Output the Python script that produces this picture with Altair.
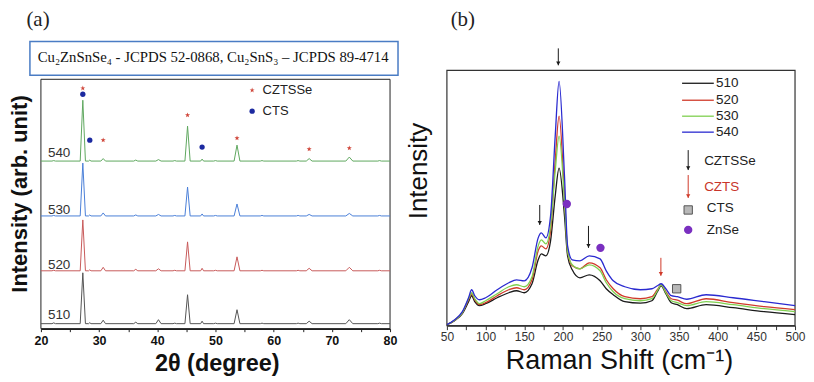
import altair as alt
import pandas as pd

# ---------------- Panel (a): XRD ----------------
xrd_samples = ["540", "530", "520", "510"]
xrd_colors = ["#5fa85f", "#4a80d8", "#c85a5a", "#555555"]
xrd_baseline = [168, 113, 58, 5]
xrd_peak_pos = [22.2, 27.2, 28.4, 30.7, 36.3, 40.2, 43.0, 45.2, 47.7, 50.0, 53.7, 58.0, 64.2, 66.1, 73.0, 78.2]
xrd_peak_hw = [0.3, 0.45, 0.2, 0.4, 0.35, 0.45, 0.3, 0.45, 0.25, 0.3, 0.5, 0.3, 0.3, 0.5, 0.6, 0.3]
xrd_h540 = [0.5, 61, 1, 2.5, 1, 1.5, 0.5, 35, 2, 0.5, 16, 0.5, 0.5, 2.5, 4, 0.5]
xrd_h530 = [0.5, 53, 1, 3, 1, 1.5, 0.5, 29, 2, 0.5, 12, 0.5, 0.5, 1.5, 2.5, 0.5]
xrd_h520 = [0.5, 51, 1, 3.5, 1.5, 2, 0.5, 29, 2.5, 0.5, 14, 0.5, 0.5, 2.5, 3.5, 0.5]
xrd_h510 = [0.8, 51, 1, 3.5, 1.5, 4, 0.5, 29, 2.5, 0.5, 14, 0.5, 0.5, 2.5, 4, 0.5]
xrd_heights = [xrd_h540, xrd_h530, xrd_h520, xrd_h510]

star_x = [27.2, 30.7, 45.2, 53.7, 66.1, 73.0]
star_y = [241, 189, 214, 191, 180, 181]
dot_x = [27.2, 28.4, 47.7]
dot_y = [235, 189, 182]

label_a_y = [176, 119, 64, 14]

# ---------------- Panel (b): Raman ----------------
raman_samples = ["510", "520", "530", "540"]
raman_colors = ["#1a1a1a", "#d03a2a", "#7fd050", "#2a2ad0"]
raman_x = [50, 60, 70, 78, 82, 86, 92, 100, 115, 130, 140, 150, 160, 168, 172, 178, 184, 190, 195,
           202, 206, 212, 222, 234, 248, 256, 265, 280, 300, 315, 322, 327, 333, 340, 348, 360, 385,
           420, 460, 500]
raman_510 = [1, 5, 12, 24, 30, 24, 20, 22, 28, 33, 35, 33, 42, 66, 72, 70, 85, 130, 158,
             110, 70, 56, 48, 51, 45, 37, 31, 24, 22.5, 25, 34, 40, 32, 23, 21, 17, 21,
             18, 14, 11]
raman_520 = [1, 5.5, 13, 26, 32, 26, 21, 23, 30, 36, 38, 36, 46, 75, 80, 77, 95, 165, 210,
             130, 75, 60, 57, 63, 58, 46, 37, 29, 27, 29, 36, 41, 34, 27, 25.5, 22, 27,
             23, 19, 16]
raman_530 = [1, 5.5, 13, 27, 33, 27, 22, 25, 32, 39, 41, 39, 49, 80, 86, 82, 100, 155, 190,
             125, 75, 61, 57, 61, 55, 43, 34, 27, 25, 27, 35, 41, 33, 25, 23, 20, 24,
             21, 17, 14]
raman_540 = [1, 6, 14, 28, 36, 30, 26, 28, 36, 43, 46, 45, 58, 88, 93, 88, 110, 190, 245,
             150, 80, 66, 65, 70, 67, 55, 45, 39, 36, 37, 40, 42, 37, 30, 29, 26.5, 31,
             28, 24, 20]
raman_series = [raman_510, raman_520, raman_530, raman_540]

arrow_x = [194, 170, 233, 326.6, 361.9, 361.9]
arrow_top = [278, 121, 100, 68, 176, 151]
arrow_bot = [261, 101, 78, 50, 156, 128]
arrow_col = ["#1a1a1a", "#1a1a1a", "#1a1a1a", "#d03a2a", "#1a1a1a", "#d03a2a"]
znse_x = [205, 248.5, 361.9]
znse_y = [122, 78, 96]
cts_x = [347, 361.9]
cts_y = [37, 116]
leg_b_y = [243, 226, 210, 194]

# ---------------- build tables ----------------
rows = []
for s, base, hs in zip(xrd_samples, xrd_baseline, xrd_heights):
    k = 0
    rows.append(dict(s=s, x=20.0, y=base, o=k)); k += 1
    for p, hw, h in zip(xrd_peak_pos, xrd_peak_hw, hs):
        rows.append(dict(s=s, x=p - hw, y=base, o=k)); k += 1
        rows.append(dict(s=s, x=p, y=base + h, o=k)); k += 1
        rows.append(dict(s=s, x=p + hw, y=base, o=k)); k += 1
    rows.append(dict(s=s, x=80.0, y=base, o=k))
xrd_df = pd.DataFrame(rows)

XS = alt.Scale(domain=[20, 80], nice=False, zero=False)
YS = alt.Scale(domain=[0, 259], nice=False, zero=False)
xa = alt.Axis(values=list(range(20, 81, 5)), labelExpr="datum.value % 10 == 0 ? datum.label : ''",
              grid=False, domainColor="#222", domainWidth=1.5, tickColor="#222", tickSize=3,
              labelFont="Liberation Sans", labelFontWeight="bold", labelFontSize=12.5,
              labelColor="#111", labelPadding=3, title=None, labelFlush=False)


def ax(field="x", axis=xa, scale=XS):
    return alt.X(field, type="quantitative", scale=scale, axis=axis)


def ay(field="y", scale=YS):
    return alt.Y(field, type="quantitative", scale=scale, axis=None)


a_lines = alt.Chart(xrd_df).mark_line(strokeWidth=1, clip=False).encode(
    x=ax(), y=ay(), order="o:Q",
    color=alt.Color("s:N", scale=alt.Scale(domain=xrd_samples, range=xrd_colors), legend=None),
)

frame_a = alt.Chart(pd.DataFrame({"x": [20], "x2": [80], "y": [0], "y2": [250]})).mark_rect(
    fill=None, stroke="#222", strokeWidth=1).encode(x=ax(), x2="x2", y=ay(), y2="y2")

box_a = alt.Chart(pd.DataFrame({"x": [18.11], "x2": [81.37], "y": [254], "y2": [288]})).mark_rect(
    fill="white", stroke="#4a7cc4", strokeWidth=1.5).encode(x=ax(), x2="x2", y=ay(), y2="y2")

box_text = alt.Chart(pd.DataFrame({"x": [49.6], "y": [271],
                                   "t": ["Cu₂ZnSnSe₄ - JCPDS 52-0868, Cu₂SnS₃ – JCPDS 89-4714"]})).mark_text(
    font="Liberation Serif", fontSize=14.8, color="#111", baseline="middle", align="center").encode(
    x=ax(), y=ay(), text="t:N")

STAR = "M0,-1L0.24,-0.33L0.95,-0.31L0.38,0.12L0.59,0.81L0,0.4L-0.59,0.81L-0.38,0.12L-0.95,-0.31L-0.24,-0.33Z"
stars_df = pd.DataFrame({"x": star_x + [56.3], "y": star_y + [239]})
stars = alt.Chart(stars_df).mark_point(shape=STAR, filled=True, color="#d0463a", size=28, opacity=1).encode(
    x=ax(), y=ay())
dots_df = pd.DataFrame({"x": dot_x + [56.3], "y": dot_y + [218]})
dots = alt.Chart(dots_df).mark_point(shape="circle", filled=True, color="#1c2aa0", size=28, opacity=1).encode(
    x=ax(), y=ay())

leg_a_text = alt.Chart(pd.DataFrame({"x": [58.1, 58.1], "y": [239, 218], "t": ["CZTSSe", "CTS"]})).mark_text(
    font="Liberation Sans", fontSize=13, color="#222", align="left", baseline="middle").encode(
    x=ax(), y=ay(), text="t:N")

samp_text = alt.Chart(pd.DataFrame({"x": [21.2] * 4, "y": label_a_y, "t": xrd_samples})).mark_text(
    font="Liberation Sans", fontSize=13.5, color="#333", align="left", baseline="middle").encode(
    x=ax(), y=ay(), text="t:N")

a_label = alt.Chart(pd.DataFrame({"x": [19.5], "y": [309.5], "t": ["(a)"]})).mark_text(
    font="Liberation Serif", fontSize=21, baseline="middle", align="center", color="#222").encode(
    x=ax(), y=ay(), text="t:N")
a_xtitle = alt.Chart(pd.DataFrame({"x": [50.3], "y": [-35], "t": ["2θ (degree)"]})).mark_text(
    font="Liberation Sans", fontSize=23.5, fontWeight="bold", baseline="middle", align="center",
    color="#111").encode(x=ax(), y=ay(), text="t:N")
a_ytitle = alt.Chart(pd.DataFrame({"x": [16.4], "y": [135], "t": ["Intensity (arb. unit)"]})).mark_text(
    font="Liberation Sans", fontSize=22, fontWeight="bold", baseline="middle", align="center",
    angle=270, color="#111").encode(x=ax(), y=ay(), text="t:N")

left = alt.layer(frame_a, a_lines, box_a, box_text, stars, dots, leg_a_text, samp_text,
                 a_label, a_xtitle, a_ytitle).properties(width=350, height=259)

# ---------------- Panel (b) ----------------
rrows = []
for s, ys in zip(raman_samples, raman_series):
    for i, (x, y) in enumerate(zip(raman_x, ys)):
        rrows.append(dict(r=s, x=x, y=y, o=i))
raman_df = pd.DataFrame(rrows)

XS2 = alt.Scale(domain=[50, 500], nice=False, zero=False)
YS2 = alt.Scale(domain=[0, 256], nice=False, zero=False)
xa2 = alt.Axis(values=list(range(50, 501, 25)), labelExpr="datum.value % 50 == 0 ? datum.label : ''",
               grid=False, domainColor="#333", domainWidth=1.2, tickColor="#333", tickSize=4,
               labelFont="Liberation Sans", labelFontSize=12, labelColor="#333", labelPadding=2,
               title=None, labelFlush=False)


def bx(field="x"):
    return alt.X(field, type="quantitative", scale=XS2, axis=xa2)


def by(field="y"):
    return alt.Y(field, type="quantitative", scale=YS2, axis=None)


CS2 = alt.Scale(domain=raman_samples, range=raman_colors)

frame_b = alt.Chart(pd.DataFrame({"x": [50], "x2": [500], "y": [0], "y2": [256]})).mark_rect(
    fill=None, stroke="#333", strokeWidth=1.2).encode(x=bx(), x2="x2", y=by(), y2="y2")

b_lines = alt.Chart(raman_df).mark_line(strokeWidth=1.3, interpolate="monotone").encode(
    x=bx(), y=by(), order="o:Q", color=alt.Color("r:N", scale=CS2, legend=None))

arr_df = pd.DataFrame({"x": arrow_x, "y": arrow_top, "y2": arrow_bot, "c": arrow_col})
arr_lines = alt.Chart(arr_df).mark_rule(strokeWidth=1).encode(
    x=bx(), y=by(), y2="y2", color=alt.Color("c:N", scale=None))
arr_heads = alt.Chart(arr_df).mark_point(shape="triangle-down", filled=True, size=18, opacity=1).encode(
    x=bx(), y=alt.Y("y2", type="quantitative", scale=YS2, axis=None), color=alt.Color("c:N", scale=None),
    yOffset=alt.value(-2))

znse = alt.Chart(pd.DataFrame({"x": znse_x, "y": znse_y})).mark_point(
    shape="circle", filled=True, color="#7a2fc0", size=70, opacity=1).encode(x=bx(), y=by())
cts = alt.Chart(pd.DataFrame({"x": cts_x, "y": cts_y})).mark_point(
    shape="square", filled=True, fill="#b8b8b8", stroke="#555", strokeWidth=1, size=70, opacity=1).encode(
    x=bx(), y=by())

leg_lines = alt.Chart(pd.DataFrame({"x": [354] * 4, "x2": [395] * 4, "y": leg_b_y, "r": raman_samples})).mark_rule(
    strokeWidth=1.3).encode(x=bx(), x2="x2", y=by(), color=alt.Color("r:N", scale=CS2, legend=None))
leg_lab = alt.Chart(pd.DataFrame({"x": [398] * 4, "y": leg_b_y, "t": raman_samples})).mark_text(
    font="Liberation Sans", fontSize=13.5, color="#222", align="left", baseline="middle").encode(
    x=bx(), y=by(), text="t:N")
leg_sym = alt.Chart(pd.DataFrame({"x": [382.5, 382.5, 386, 386], "y": [165, 139, 118, 96],
                                  "t": ["CZTSSe", "CZTS", "CTS", "ZnSe"],
                                  "c": ["#222", "#c8352a", "#222", "#222"]})).mark_text(
    font="Liberation Sans", fontSize=13.5, align="left", baseline="middle").encode(
    x=bx(), y=by(), text="t:N", color=alt.Color("c:N", scale=None))

b_label = alt.Chart(pd.DataFrame({"x": [70.6], "y": [306.5], "t": ["(b)"]})).mark_text(
    font="Liberation Serif", fontSize=21, baseline="middle", align="center", color="#222").encode(
    x=bx(), y=by(), text="t:N")
b_xtitle = alt.Chart(pd.DataFrame({"x": [273], "y": [-35], "t": ["Raman Shift (cm⁻¹)"]})).mark_text(
    font="Liberation Sans", fontSize=27, baseline="middle", align="center", color="#111").encode(
    x=bx(), y=by(), text="t:N")
b_ytitle = alt.Chart(pd.DataFrame({"x": [14.5], "y": [155], "t": ["Intensity"]})).mark_text(
    font="Liberation Sans", fontSize=26, baseline="middle", align="center", angle=270,
    color="#111").encode(x=bx(), y=by(), text="t:N")

right = alt.layer(frame_b, b_lines, arr_lines, arr_heads, znse, cts, leg_lines, leg_lab, leg_sym,
                  b_label, b_xtitle, b_ytitle).properties(width=349, height=256)

chart = alt.hconcat(left, right, spacing=57, bounds="flush").resolve_scale(
    color="independent").properties(padding=0, background="white").configure_view(stroke=None)

chart.save("out.html", embed_options={"renderer": "svg", "actions": False})
